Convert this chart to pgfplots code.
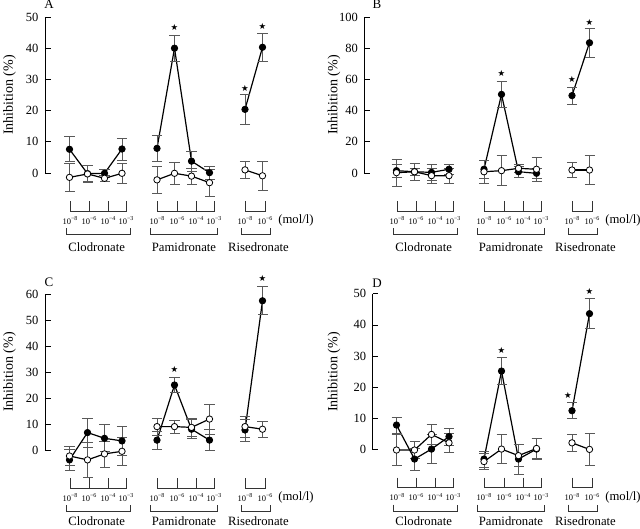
\documentclass[border=0pt]{standalone}
\usepackage{fontspec}
\setmainfont{Liberation Serif}
\newfontfamily\djv{DejaVu Sans}
\usepackage{pgfplots}
\pgfplotsset{compat=1.18}

\newcommand\tl[1]{{\fontsize{8.5bp}{8.5bp}\selectfont 10\raisebox{3.2bp}{\fontsize{6bp}{6bp}\selectfont −#1}}}

\pgfplotsset{
 panel/.style={scale only axis, x=1bp, ymin=0, xmax=280, clip=false,
   axis x line=none, axis y line=left, axis line style={-, line width=0.8bp},
   tick align=inside, major tick length=5.5bp, tick style={line width=0.8bp, black},
   xtick=\empty, anchor=south west,
   yticklabel style={font=\fontsize{12.5bp}{12.5bp}\selectfont, xshift=-3bp},
   /pgf/number format/assume math mode=true},
 fl/.style={black, line width=1.2bp, mark=*, mark size=3.2bp, mark options={solid, fill=black, line width=0.8bp},
   /pgfplots/error bars/y dir=both, /pgfplots/error bars/y explicit,
   /pgfplots/error bars/error bar style={black!65, line width=0.7bp},
   /pgfplots/error bars/error mark options={rotate=90, black!65, line width=0.7bp, mark size=5bp}},
 op/.style={fl, mark options={solid, fill=white, line width=0.8bp}},
 st/.style={only marks, mark=text, text mark={\djv\fontsize{8.5bp}{8.5bp}\selectfont ★}},
}

% #1 x shift, #2 y of zero line, #3 y offset of the group names
\newcommand\xbrackets[3]{%
\begin{scope}[shift={(#1bp,-#2bp)}, x=1bp, y=-1bp, line width=0.6bp, black!80]
\draw (70,28)--(70,38)--(126,38)--(126,28); \draw (89,28)--(89,38); \draw (108,28)--(108,38);
\draw (157,28)--(157,38)--(214,38)--(214,28); \draw (177,28)--(177,38); \draw (196,28)--(196,38);
\draw (245,28)--(245,38)--(265,38)--(265,28);
\draw (66.7,55)--(66.7,61.5)--(130,61.5)--(130,55);
\draw (150.7,55)--(150.7,61.5)--(217.7,61.5)--(217.7,55);
\draw (241.7,55)--(241.7,61.5)--(270.7,61.5)--(270.7,55);
\foreach \xx/\ee in {70/8,89/6,108/4,126/3,157/8,177/6,196/4,214/3,245/8,265/6}
  \node[black, inner sep=0pt] at (\xx,47.5) {\tl{\ee}};
\node[black, font=\fontsize{12.7bp}{12.7bp}\selectfont] at (296,47.5) {(mol/l)};
\node[black, font=\fontsize{12.7bp}{12.7bp}\selectfont, inner sep=0pt] at (96.7,#3) {Clodronate};
\node[black, font=\fontsize{12.7bp}{12.7bp}\selectfont, inner sep=0pt] at (184,#3) {Pamidronate};
\node[black, font=\fontsize{12.7bp}{12.7bp}\selectfont, inner sep=0pt] at (258.5,#3) {Risedronate};
\end{scope}}

\begin{document}
\begin{tikzpicture}
\useasboundingbox (0,0) rectangle (640bp,-529bp);

% ---------------- Panel A
\begin{axis}[panel, at={(45bp,-173bp)}, xmin=45, y=3.12bp, ymax=50, ytick={0,10,...,50}]
\addplot[fl] coordinates {(69.5,7.6) +- (0,4.0) (87.5,-0.2) +- (0,2.5) (104.5,-0.1) +- (0,1.2) (122,7.7) +- (0,3.5)};
\addplot[op] coordinates {(69.5,-1.4) +- (0,4.6) (87.5,-0.3) +- (0,2.8) (104.5,-1.7) +- (0,1.0) (122,-0.1) +- (0,3.2)};
\addplot[fl] coordinates {(157,7.9) +- (0,4.1) (174.5,40.0) +- (0,4.2) (191.5,3.8) +- (0,3.3) (209.5,0.1) +- (0,2.1)};
\addplot[op] coordinates {(157,-2.2) +- (0,4.3) (174.5,-0.1) +- (0,3.6) (191.5,-1.0) +- (0,2.5) (209.5,-3.1) +- (0,4.3)};
\addplot[fl] coordinates {(245,20.4) +- (0,4.8) (262.5,40.3) +- (0,4.4)};
\addplot[op] coordinates {(245,1.0) +- (0,2.8) (262.5,-0.9) +- (0,4.7)};
\addplot[st] coordinates {(174.5,46.5) (245,27.2) (262.5,47)};
\end{axis}

% ---------------- Panel B
\begin{axis}[panel, at={(364.3bp,-173bp)}, xmin=37.3, y=1.56bp, ymax=100, ytick={0,20,...,100}]
\addplot[fl] coordinates {(69.5,1.5) +- (0,4.3) (87.5,0.8) +- (0,2.0) (104.5,0.4) +- (0,5.0) (122,2.4) +- (0,3.2)};
\addplot[op] coordinates {(69.5,0.2) +- (0,8.5) (87.5,0.8) +- (0,5.5) (104.5,-1.7) +- (0,5.0) (122,-1.7) +- (0,5.0)};
\addplot[fl] coordinates {(157,2.4) +- (0,5.9) (174.5,50.4) +- (0,8.3) (191.5,0.8) +- (0,3.5) (209.5,-0.2) +- (0,3.0)};
\addplot[op] coordinates {(157,0.8) +- (0,7.4) (174.5,1.5) +- (0,9.5) (191.5,3.0) +- (0,2.5) (209.5,2.4) +- (0,7.6)};
\addplot[fl] coordinates {(245,49.6) +- (0,5.4) (262.5,83.5) +- (0,9.3)};
\addplot[op] coordinates {(245,1.9) +- (0,5.0) (262.5,1.9) +- (0,9.3)};
\addplot[st] coordinates {(174.5,63.5) (245,59.8) (262.5,96.5)};
\end{axis}

% ---------------- Panel C
\begin{axis}[panel, at={(45bp,-450bp)}, xmin=45, y=2.6bp, ymax=60, ytick={0,10,...,60}]
\addplot[fl] coordinates {(69.5,-3.8) +- (0,4.0) (87.5,6.7) +- (0,5.5) (104.5,4.5) +- (0,5.2) (122,3.5) +- (0,5.5)};
\addplot[op] coordinates {(69.5,-2.3) +- (0,3.6) (87.5,-3.8) +- (0,6.8) (104.5,-1.5) +- (0,5.0) (122,-0.5) +- (0,5.3)};
\addplot[fl] coordinates {(157,3.8) +- (0,3.4) (174.5,25.0) +- (0,3.0) (191.5,8.0) +- (0,3.7) (209.5,3.8) +- (0,4.0)};
\addplot[op] coordinates {(157,9.0) +- (0,3.2) (174.5,9.0) +- (0,2.5) (191.5,8.7) +- (0,3.5) (209.5,11.9) +- (0,5.7)};
\addplot[fl] coordinates {(245,7.7) +- (0,4.2) (262.5,57.4) +- (0,5.4)};
\addplot[op] coordinates {(245,9.0) +- (0,4.0) (262.5,8.0) +- (0,3.2)};
\addplot[st] coordinates {(174.5,30.8) (262.5,65.8)};
\end{axis}

% ---------------- Panel D
\begin{axis}[panel, at={(372.7bp,-449.7bp)}, xmin=45.7, y=3.12bp, ymax=50, ytick={0,10,...,50}]
\addplot[fl] coordinates {(69.5,7.9) +- (0,2.5) (87.5,-3.0) +- (0,3.5) (104.5,0.2) +- (0,4.6) (122,4.2) +- (0,2.7)};
\addplot[op] coordinates {(69.5,-0.1) +- (0,4.9) (87.5,-0.1) +- (0,2.7) (104.5,4.9) +- (0,3.2) (122,2.2) +- (0,3.1)};
\addplot[fl] coordinates {(157,-3.0) +- (0,2.6) (174.5,25.2) +- (0,4.4) (191.5,-3.0) +- (0,4.8) (209.5,0.2) +- (0,3.4)};
\addplot[op] coordinates {(157,-3.8) +- (0,2.5) (174.5,0.2) +- (0,4.7) (191.5,-1.9) +- (0,3.5) (209.5,0.4) +- (0,3.2)};
\addplot[fl] coordinates {(245,12.5) +- (0,2.6) (262.5,43.6) +- (0,4.8)};
\addplot[op] coordinates {(245,2.2) +- (0,2.6) (262.5,0.1) +- (0,5.0)};
\addplot[st] coordinates {(174.5,31.8) (241,17.5) (262.5,50.8)};
\end{axis}

\xbrackets{0}{173}{74.5}
\xbrackets{327}{173}{74.5}
\xbrackets{0}{450}{71}
\xbrackets{327}{449.7}{71}

\begin{scope}[font=\fontsize{14bp}{14bp}\selectfont]
\node[rotate=90] at (9.5bp,-95bp) {Inhibition (\%)};
\node[rotate=90] at (334bp,-95bp) {Inhibition (\%)};
\node[rotate=90] at (9.5bp,-372bp) {Inhibition (\%)};
\node[rotate=90] at (334bp,-372bp) {Inhibition (\%)};
\end{scope}
\begin{scope}[font=\fontsize{13bp}{13bp}\selectfont, inner sep=0pt]
\node at (49bp,-4.5bp) {A};
\node at (377bp,-4.5bp) {B};
\node at (49bp,-282.5bp) {C};
\node at (377bp,-283bp) {D};
\end{scope}
\end{tikzpicture}
\end{document}
